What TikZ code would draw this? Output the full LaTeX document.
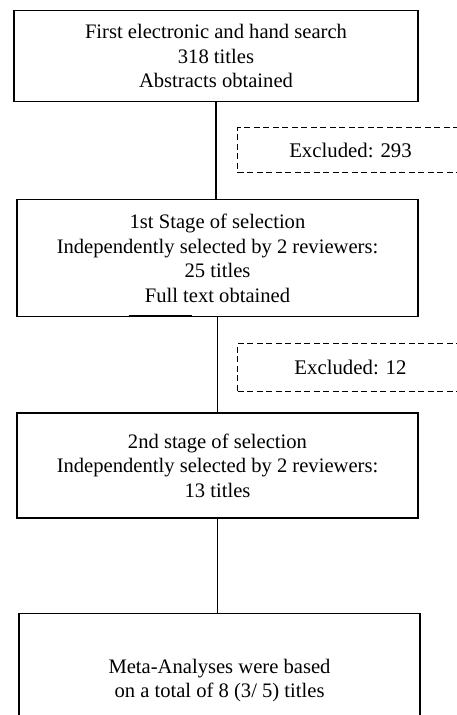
\documentclass[tikz,border=0pt]{standalone}
\usepackage{fontspec}
\setmainfont{Liberation Serif}
\usepackage{tikz}
\usetikzlibrary{positioning}
\tikzset{
  stage/.style = {rectangle, draw=black, line width=1.3pt, align=center,
                  minimum width=401pt, inner sep=4pt,
                  font=\fontsize{20.6}{24.6}\selectfont},
  excl/.style  = {rectangle, draw=black, line width=1pt, dash pattern=on 6pt off 3.5pt,
                  minimum width=226pt, minimum height=45pt, align=center,
                  font=\fontsize{20.8}{24.6}\selectfont},
  fl/.style    = {draw=black, line width=1.3pt},
}
\begin{document}
\begin{tikzpicture}[x=1pt,y=-1pt]
  \useasboundingbox (0,0) rectangle (457,715);
  \node[stage, minimum width=404pt, minimum height=91pt] (s1) at (216,56)
    {First electronic and hand search\\318 titles\\Abstracts obtained};
  \node[stage, minimum height=117pt, below=97pt of s1, xshift=1.5pt] (s2)
    {1st Stage of selection\\Independently selected by 2 reviewers:\\25 titles\\Full text obtained};
  \node[stage, minimum height=105pt, below=95pt of s2] (s3)
    {2nd stage of selection\\Independently selected by 2 reviewers:\\13 titles};
  \node[stage, minimum height=134pt, below=94pt of s3, xshift=2pt] (s4)
    {Meta-Analyses were based\\on a total of 8 (3/ 5) titles};

  \node[excl, anchor=west] (x1) at (237,150) {Excluded: 293};
  \node[excl, anchor=west, minimum height=48pt] (x2) at (237,367) {Excluded: 12};

  \draw[fl] (s1.south) -- (s2.north -| s1.south);
  \draw[fl] (s2) -- (s3);
  \draw[fl] (s3.south) -- (s4.north -| s3.south);
  % heavier bit on the lower edge of the second box
  \draw[line width=2.2pt] (129,316) -- (192,316);
\end{tikzpicture}
\end{document}
